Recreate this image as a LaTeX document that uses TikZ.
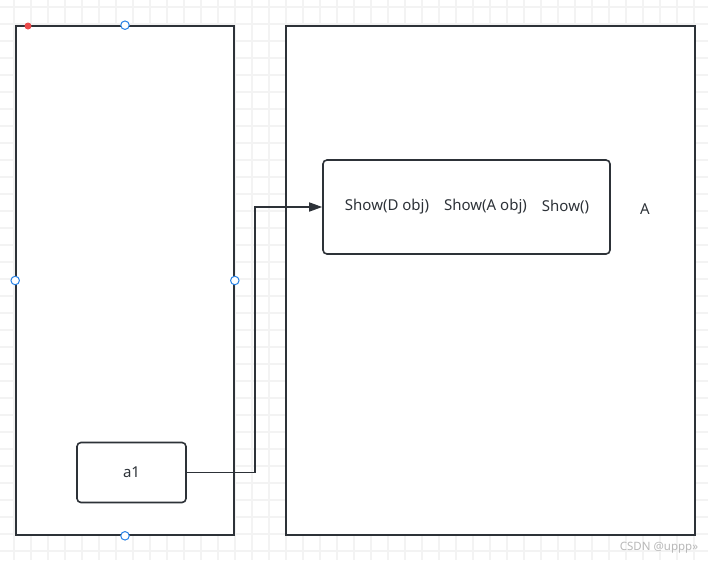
\documentclass[tikz,border=0pt]{standalone}
\usepackage{fontspec}
\setmainfont{Noto Sans}
\usetikzlibrary{positioning,arrows.meta}

\definecolor{lineC}{RGB}{45,50,56}
\definecolor{gridC}{RGB}{243,243,243}
\definecolor{handleC}{RGB}{40,130,230}
\definecolor{dotC}{RGB}{235,75,75}
\definecolor{markC}{RGB}{185,185,185}

\begin{document}
\begin{tikzpicture}[
    x=1pt, y=-1pt,
    frame/.style={draw=lineC, line width=1.6pt, fill=white, inner sep=0pt},
    card/.style={draw=lineC, line width=1.6pt, rounded corners=4pt, fill=white, inner sep=0pt},
    lbl/.style={font=\fontsize{15}{17}\selectfont, text=lineC, inner sep=0pt},
    handle/.style={circle, draw=handleC, fill=white, line width=1pt, inner sep=0pt, minimum size=8.5pt},
    arr/.style={-{Triangle[length=13pt, width=9pt]}, draw=lineC, line width=1.6pt},
]
\useasboundingbox (0,0) rectangle (708,560);
% Background grid
\fill[white] (0,0) rectangle (708,560);
\foreach \gx in {14,31,...,708} \draw[gridC, line width=1.2pt] (\gx,0) -- (\gx,560);
\foreach \gy in {7,24,...,560} \draw[gridC, line width=1.2pt] (0,\gy) -- (708,\gy);

% Stack and heap
\node[frame, minimum width=218pt, minimum height=509pt] (stack) at (125,280.5) {};
\node[frame, minimum width=409pt, minimum height=509pt] (heap) at (490.5,280.5) {};

% Object A
\node[card, minimum width=287pt, minimum height=94pt] (objA) at (466.5,207) {};
\node[lbl] (showD) at (387,207) {Show(D obj)};
\node[lbl] (showA) at (485.5,207) {Show(A obj)};
\node[lbl] (show) at (565.5,207) {Show()};
\node[lbl] (nameA) at (645,209) {A};

% Reference a1
\node[card, minimum width=109pt, minimum height=60pt] (a1) at (131.5,472.5) {};
\node[lbl] (a1txt) at (a1) {a1};
\coordinate (bend) at (255,472.5);
\draw[arr] (a1.east) -- (bend) |- (objA.west);

% Selection handles
\fill[dotC] (28,26) circle (3.5pt);
\node[handle] at (stack.north) {};
\node[handle] at (stack.south) {};
\node[handle] at (stack.west) {};
\node[handle] at (stack.east) {};

\node[font=\fontsize{11.5}{13}\selectfont, text=markC, inner sep=0pt] (mark) at (659,548) {CSDN @uppp»};
\end{tikzpicture}
\end{document}
